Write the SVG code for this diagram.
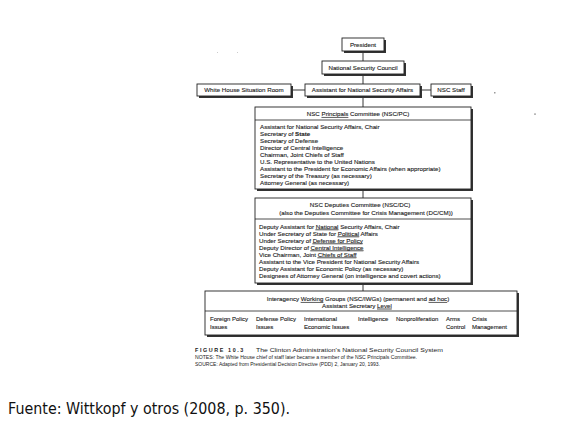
<svg xmlns="http://www.w3.org/2000/svg" width="580" height="427" viewBox="0 0 580 427">
<defs>
<style>
.bg{fill:#ffffff}
.box{fill:#ffffff;stroke:#222222;stroke-width:0.9}
.sh{fill:#333333}
.div{stroke:#222222;stroke-width:0.8}
.con line{stroke:#222222;stroke-width:0.9}
.t{font-family:"Liberation Sans",Arial,sans-serif;font-size:6.2px;fill:#222222;stroke:#222222;stroke-width:0.12}
.col{font-size:6px}
.c{text-anchor:middle}
.u{text-decoration:underline}
.b{font-weight:bold}
.cap{font-family:"Liberation Sans",Arial,sans-serif;fill:#222222}
.src{font-family:"DejaVu Sans",Verdana,sans-serif;font-size:16px;fill:#111111}
.spec{fill:#9a9a9a}
</style>
</defs>
<rect class="bg" x="0" y="0" width="580" height="427"/>

<g id="specks">
<rect class="spec" x="494" y="92" width="1.5" height="1.5"/>
<rect class="spec" x="534" y="113.5" width="2" height="1.2"/>
<rect class="spec" x="217" y="52" width="1" height="1" opacity="0.5"/>
<rect class="spec" x="237" y="52" width="1" height="1" opacity="0.5"/>
</g>

<g id="connectors" class="con">
<line x1="363" y1="51" x2="363" y2="61"/>
<line x1="363" y1="74" x2="363" y2="84"/>
<line x1="293" y1="90" x2="305" y2="90"/>
<line x1="422" y1="90" x2="431" y2="90"/>
<line x1="363" y1="96" x2="363" y2="107"/>
<line x1="363" y1="189" x2="363" y2="198"/>
<line x1="363" y1="283" x2="363" y2="291"/>
</g>

<g id="president">
<rect class="sh" x="344" y="40" width="42" height="13"/>
<rect class="box" x="342" y="38" width="42" height="13"/>
<text class="t c" x="363" y="46.7">President</text>
</g>

<g id="nsc">
<rect class="sh" x="324" y="63" width="82" height="13"/>
<rect class="box" x="322" y="61" width="82" height="13"/>
<text class="t c" x="363" y="69.7">National Security Council</text>
</g>

<g id="situation-room">
<rect class="sh" x="199" y="86" width="94" height="12"/>
<rect class="box" x="197" y="84" width="94" height="12"/>
<text class="t c" x="244" y="92.2">White House Situation Room</text>
</g>

<g id="ansa">
<rect class="sh" x="307" y="86" width="115" height="12"/>
<rect class="box" x="305" y="84" width="115" height="12"/>
<text class="t c" x="362.5" y="92.2">Assistant for National Security Affairs</text>
</g>

<g id="nsc-staff">
<rect class="sh" x="433" y="86" width="40" height="12"/>
<rect class="box" x="431" y="84" width="40" height="12"/>
<text class="t c" x="451" y="92.2">NSC Staff</text>
</g>

<g id="principals">
<rect class="sh" x="257" y="109" width="216" height="82"/>
<rect class="box" x="255" y="107" width="216" height="82"/>
<line class="div" x1="255" y1="120" x2="471" y2="120"/>
<text class="t c" x="358" y="116">NSC <tspan class="u">Principals</tspan> Committee (NSC/PC)</text>
<text class="t" x="260" y="128.5">Assistant for National Security Affairs, Chair</text>
<text class="t" x="260" y="135.5">Secretary of <tspan class="b">State</tspan></text>
<text class="t" x="260" y="142.5">Secretary of Defense</text>
<text class="t" x="260" y="149.5">Director of Central Intelligence</text>
<text class="t" x="260" y="156.5">Chairman, Joint Chiefs of Staff</text>
<text class="t" x="260" y="163.5">U.S. Representative to the United Nations</text>
<text class="t" x="260" y="170.5">Assistant to the President for Economic Affairs (when appropriate)</text>
<text class="t" x="260" y="177.5">Secretary of the Treasury (as necessary)</text>
<text class="t" x="260" y="184.5">Attorney General (as necessary)</text>
</g>

<g id="deputies">
<rect class="sh" x="257" y="200" width="216" height="85"/>
<rect class="box" x="255" y="198" width="216" height="85"/>
<line class="div" x1="255" y1="219" x2="471" y2="219"/>
<text class="t c" x="360" y="207">NSC Deputies Committee (NSC/DC)</text>
<text class="t c" x="366" y="214.5">(also the Deputies Committee for Crisis Management (DC/CM))</text>
<text class="t" x="259" y="228.5">Deputy Assistant for <tspan class="u">National</tspan> Security Affairs, Chair</text>
<text class="t" x="259" y="235.5">Under Secretary of State for <tspan class="u">Political</tspan> Affairs</text>
<text class="t" x="259" y="242.5">Under Secretary of <tspan class="u">Defense for Policy</tspan></text>
<text class="t" x="259" y="249.5">Deputy Director of <tspan class="u">Central Intelligence</tspan></text>
<text class="t" x="259" y="256.5">Vice Chairman, Joint <tspan class="u">Chiefs of Staff</tspan></text>
<text class="t" x="259" y="263.5">Assistant to the Vice President for National Security Affairs</text>
<text class="t" x="259" y="270.5">Deputy Assistant for Economic Policy (as necessary)</text>
<text class="t" x="259" y="277.5">Designees of Attorney General (on intelligence and covert actions)</text>
</g>

<g id="iwg">
<rect class="sh" x="207" y="293" width="312" height="44"/>
<rect class="box" x="205" y="291" width="312" height="44"/>
<line class="div" x1="205" y1="311" x2="517" y2="311"/>
<text class="t c" x="358" y="301">Interagency <tspan class="u">Working</tspan> Groups (NSC/IWGs) (permanent and <tspan class="u">ad hoc</tspan>)</text>
<text class="t c" x="357" y="307.7">Assistant Secretary <tspan class="u">Level</tspan></text>
<text class="t col" x="210" y="321">Foreign Policy</text>
<text class="t col" x="210" y="328.5">Issues</text>
<text class="t col" x="256" y="321">Defense Policy</text>
<text class="t col" x="256" y="328.5">Issues</text>
<text class="t col" x="304" y="321">International</text>
<text class="t col" x="304" y="328.5">Economic Issues</text>
<text class="t col" x="358" y="321">Intelligence</text>
<text class="t col" x="396" y="321">Nonproliferation</text>
<text class="t col" x="446" y="321">Arms</text>
<text class="t col" x="446" y="328.5">Control</text>
<text class="t col" x="472" y="321">Crisis</text>
<text class="t col" x="472" y="328.5">Management</text>
</g>

<g id="caption">
<text class="cap" x="195" y="351.5" font-size="5.4" font-weight="bold" letter-spacing="1.6">FIGURE 10.3</text>
<text class="cap" x="256" y="351.5" font-size="6" textLength="187" lengthAdjust="spacingAndGlyphs">The Clinton Administration's National Security Council System</text>
<text class="cap" x="195" y="358.5" font-size="4.6" textLength="222" lengthAdjust="spacingAndGlyphs">NOTES: The White House chief of staff later became a member of the NSC Principals Committee.</text>
<text class="cap" x="195" y="366" font-size="4.6" textLength="185" lengthAdjust="spacingAndGlyphs">SOURCE: Adapted from Presidential Decision Directive (PDD) 2, January 20, 1993.</text>
</g>

<text class="src" x="8" y="414" textLength="282" lengthAdjust="spacingAndGlyphs">Fuente: Wittkopf y otros (2008, p. 350).</text>
</svg>
